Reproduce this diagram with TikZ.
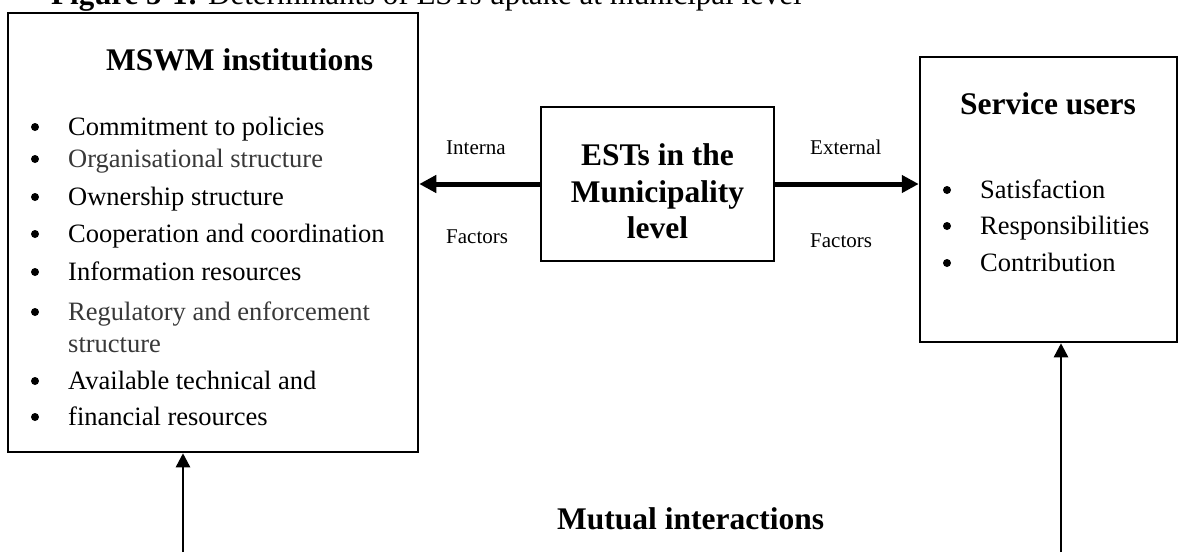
\documentclass[tikz,border=0pt]{standalone}
\usepackage{fontspec}
\setmainfont{Liberation Serif}
\usetikzlibrary{arrows.meta}

\tikzset{
  box/.style={draw, line width=2.5pt, inner sep=0pt},
  bodytext/.style={anchor=base west, inner sep=0pt, font=\fontsize{26.5pt}{30pt}\selectfont},
  greytext/.style={bodytext, text=black!78},
  headtext/.style={inner sep=0pt, font=\fontsize{31.5pt}{37pt}\selectfont\bfseries},
  labeltext/.style={anchor=base west, inner sep=0pt, font=\fontsize{21pt}{24pt}\selectfont},
  bulletdot/.style={fill, circle, inner sep=0pt, minimum size=8pt},
  factorarrow/.style={line width=5pt, -{Triangle[length=17pt,width=17pt]}},
  linkarrow/.style={line width=2.5pt, -{Triangle[length=14pt,width=14pt]}}
}

\begin{document}
\begin{tikzpicture}[x=1pt, y=-1pt]
\useasboundingbox (0,0) rectangle (1179,552);

% caption, cut by the page top
\node[anchor=base west, inner sep=0pt, font=\fontsize{31pt}{36pt}\selectfont] (caption) at (51,4.5)
  {\textbf{Figure 5-1:} Determinants of ESTs uptake at municipal level};

% the three boxes
\node[box, minimum width=410pt, minimum height=439pt] (inst) at (213,232.5) {};
\node[box, minimum width=233pt, minimum height=154pt] (ests) at (657.5,184) {};
\node[box, minimum width=257pt, minimum height=285pt] (users) at (1048.5,199.5) {};

% institutions box
\node[headtext, anchor=base west] (insthead) at (106,70) {MSWM institutions};
\foreach \y/\txt/\sty [count=\i] in {
    135/Commitment to policies/bodytext,
    167/Organisational structure/greytext,
    205/Ownership structure/bodytext,
    242/Cooperation and coordination/bodytext,
    280/Information resources/bodytext,
    320/Regulatory and enforcement/greytext,
    389/Available technical and/bodytext,
    425/financial resources/bodytext} {
  \node[bulletdot] (ib\i) at (35,\y-8) {};
  \node[\sty] (it\i) at (68,\y) {\txt};
}
\node[greytext] (itcont) at (68,352) {structure};

% centre box
\node[headtext, anchor=base] (e1) at (657.5,165) {ESTs in the};
\node[headtext, anchor=base] (e2) at (657.5,202) {Municipality};
\node[headtext, anchor=base] (e3) at (657.5,238) {level};

% service users box
\node[headtext, anchor=base] (usershead) at (1048,114) {Service users};
\foreach \y/\txt [count=\i] in {198/Satisfaction, 234/Responsibilities, 271/Contribution} {
  \node[bulletdot] (ub\i) at (947,\y-8) {};
  \node[bodytext] (ut\i) at (980,\y) {\txt};
}

% factor arrows and their labels
\draw[factorarrow] (ests.west) -- (inst.east |- ests.west);
\draw[factorarrow] (ests.east) -- (users.west |- ests.east);
\node[labeltext] (lint) at (446,154) {Interna};
\node[labeltext] (lfac) at (446,243) {Factors};
\node[labeltext] (lext) at (810,154) {External};
\node[labeltext] (rfac) at (810,247) {Factors};

% mutual interaction arrows
\coordinate (lfoot) at (183,552);
\coordinate (rfoot) at (1061,552);
\draw[linkarrow] (lfoot) -- (inst.south -| lfoot);
\draw[linkarrow] (rfoot) -- (users.south -| rfoot);
\node[headtext, anchor=base west] (mutual) at (557,529) {Mutual interactions};
\end{tikzpicture}
\end{document}
